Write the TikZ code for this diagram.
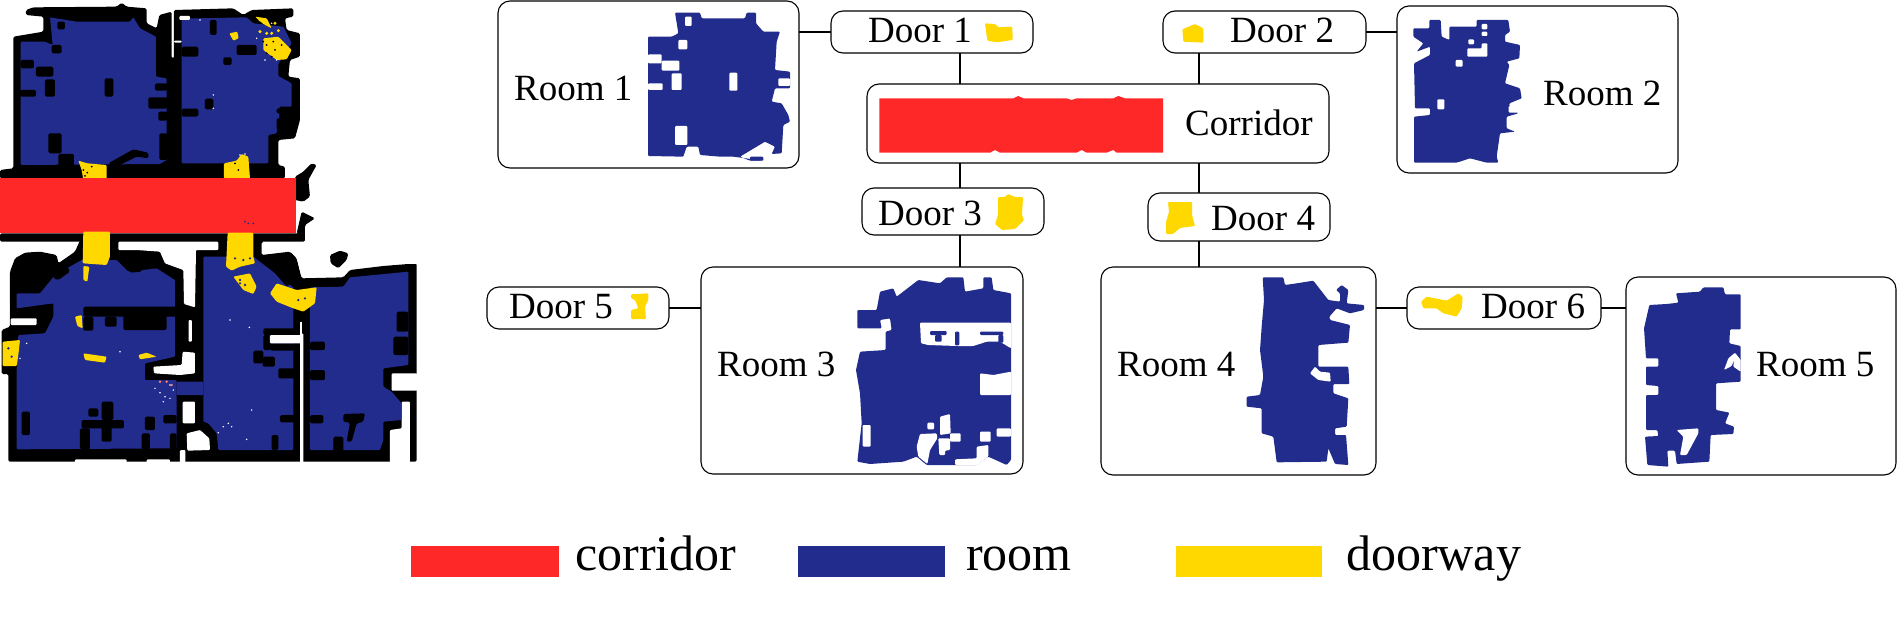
\documentclass[tikz,border=0pt]{standalone}
\usepackage{fontspec}
\setmainfont{Liberation Serif}
\definecolor{rmblue}{RGB}{34,44,140}
\definecolor{corred}{RGB}{255,40,40}
\definecolor{dooryel}{RGB}{255,216,0}
\newcommand{\pf}[2]{\fill[#1] plot coordinates {#2} -- cycle;}
\newcommand{\rf}[3]{\fill[#1] #2 rectangle #3;}
\tikzset{
  rk/.style={black,rounded corners=1.5pt},
  rb/.style={rmblue,rounded corners=1pt},
  ry/.style={dooryel,rounded corners=1pt},
  rw/.style={white,rounded corners=1pt},
  zoomed/.style={shift={#1},scale=0.33333},
  box/.style={draw=black,line width=1.1pt,rounded corners=12pt,fill=none,inner sep=0pt,outer sep=0pt},
  lbl/.style={anchor=base west,inner sep=0pt,font=\fontsize{37}{37}\selectfont},
  leg/.style={anchor=base west,inner sep=0pt,font=\fontsize{50}{50}\selectfont},
  link/.style={draw=black,line width=1.1pt},
}
\begin{document}
\begin{tikzpicture}[x=1pt,y=-1pt]
\useasboundingbox (0,0) rectangle (1897,626);
% ---------- left map, upper half ----------
\begin{scope}[zoomed={(0,0)}]
\pf{rk}{(40,110) (130,95) (130,50) (78,45) (78,30) (100,22) (350,20) (365,8) (380,20) (440,25) (440,70) (470,85) (478,45) (515,35) (515,175) (522,175) (522,30) (700,25) (730,45) (755,30) (880,25) (880,50) (855,55) (860,90) (900,100) (900,170) (870,180) (865,230) (900,235) (900,360) (885,415) (835,420) (835,495) (855,500) (855,535) (0,535) (0,510) (40,505)}
\pf{rk}{(885,530) (910,515) (935,490) (950,495) (925,540) (930,590) (910,605) (885,600)}
\pf{rb}{(62,125) (135,125) (158,135) (150,52) (230,65) (390,65) (400,52) (420,85) (468,110) (468,230) (500,235) (500,480) (480,492) (62,495)}
\pf{rb}{(545,55) (590,55) (740,52) (760,70) (850,80) (875,130) (850,170) (835,190) (835,228) (875,250) (875,320) (838,320) (838,355) (830,400) (805,405) (805,490) (545,490)}
\rf{rk}{(155,135)}{(185,160)}
\rf{rk}{(172,65)}{(195,88)}
\rf{rk}{(62,180)}{(102,205)}
\rf{rk}{(108,200)}{(160,230)}
\rf{rk}{(135,238)}{(165,290)}
\rf{rk}{(60,270)}{(108,290)}
\rf{rk}{(314,235)}{(340,290)}
\rf{rk}{(145,400)}{(185,460)}
\rf{rk}{(175,462)}{(222,500)}
\pf{rk}{(325,490) (400,448) (445,458) (445,475) (410,470) (340,505)}
\rf{rk}{(465,250)}{(502,272)}
\rf{rk}{(445,292)}{(502,326)}
\rf{rk}{(475,335)}{(502,362)}
\rf{rk}{(478,400)}{(502,480)}
\rf{rk}{(630,60)}{(650,105)}
\rf{rk}{(710,135)}{(770,165)}
\rf{rk}{(670,172)}{(695,195)}
\rf{rk}{(615,296)}{(640,328)}
\rf{rk}{(545,326)}{(595,350)}
\rf{rk}{(545,140)}{(595,170)}
\rf{rk}{(830,325)}{(878,340)}
\rf{rk}{(830,355)}{(885,390)}
\rf{rw}{(538,48)}{(570,60)}
\rf{rw}{(522,122)}{(545,128)}
\pf{ry}{(765,50) (800,55) (815,85) (790,72)}
\pf{ry}{(790,115) (835,110) (875,150) (860,178) (830,180) (790,150)}
\pf{ry}{(688,100) (712,95) (716,115) (700,122)}
\pf{ry}{(235,482) (262,490) (320,495) (320,535) (310,548) (250,540) (245,510)}
\pf{ry}{(672,490) (710,482) (725,462) (745,470) (750,535) (672,535)}
\foreach \p/\q in {250/510,262/518,255/528,275/500,715/510,705/490,800/160,815/170,790/125,820/125,845/135,825/150,800/135}{\fill[black] (\p,\q) circle (3);}
\foreach \p/\q in {780/60,795/65,825/70,800/100,815/100,835/92,780/95}{\fill[dooryel] (\p,\q) circle (5);}
\foreach \p/\q in {600/60,640/285,640/325,770/115,795/180,830/180,815/70,720/465,735/462,265/560,300/550,330/545,275/595,335/610}{\fill[white] (\p,\q) circle (2.5);}
\end{scope}
% corridor
\fill[corred] (0,178) rectangle (296,233);
% ---------- left map, lower half ----------
\begin{scope}[zoomed={(0,200)}]
\rf{rk}{(0,100)}{(915,125)}
\pf{rk}{(890,100) (905,35) (945,55) (915,75) (915,125)}
\pf{rk}{(30,215) (45,175) (75,158) (120,155) (170,165) (175,190) (225,155) (245,110) (790,110) (785,165) (870,155) (890,175) (905,235) (1030,232) (1050,210) (1150,198) (1250,190) (1250,785) (25,785) (25,522) (5,522) (5,390) (30,380) (30,330)}
\pf{rk}{(990,165) (1020,152) (1045,160) (1040,180) (1015,205) (992,190)}
% white gaps
\pf{rw}{(355,125) (655,125) (655,150) (588,150) (585,322) (552,312) (550,210) (495,190) (480,155) (410,150) (355,150)}
\rf{white}{(1050,150)}{(1255,192)}
\pf{rw}{(785,127) (900,127) (905,232) (890,172) (870,152) (785,163)}
\rf{rw}{(32,355)}{(110,375)}
\rf{rw}{(0,300)}{(28,380)}
\pf{rw}{(460,500) (545,495) (548,455) (585,458) (585,520) (540,525) (462,520)}
\rf{rw}{(566,360)}{(576,425)}
\rf{rw}{(548,605)}{(585,670)}
\pf{rw}{(560,700) (600,690) (628,715) (630,750) (562,752)}
\rf{rw}{(1175,520)}{(1252,572)}
\pf{rw}{(1205,605) (1230,605) (1230,790) (1170,790) (1170,690) (1205,685)}
\rf{rw}{(225,778)}{(380,790)}
\rf{rw}{(440,778)}{(510,790)}
\rf{rw}{(540,750)}{(556,790)}
\rf{rw}{(905,400)}{(910,790)}
% blue rooms
\pf{rb}{(50,280) (120,280) (165,225) (245,180) (350,180) (385,215) (470,205) (525,240) (525,470) (435,490) (435,540) (530,540) (530,745) (50,748) (50,510) (55,405) (135,400) (160,350) (160,310) (50,325)}
\pf{rb}{(610,170) (760,170) (880,262) (880,750) (655,750) (650,700) (625,670) (610,665)}
\rf{rb}{(530,545)}{(610,585)}
\pf{rb}{(930,262) (1030,260) (1050,232) (1225,215) (1225,495) (1150,505) (1150,560) (1175,575) (1205,610) (1205,660) (1150,665) (1150,720) (1140,750) (930,750)}
% black details C
\rf{rk}{(250,320)}{(550,350)}
\rf{rk}{(250,350)}{(280,392)}
\rf{rk}{(315,350)}{(350,380)}
\rf{rk}{(370,345)}{(500,390)}
\rf{rk}{(65,635)}{(90,705)}
\rf{rk}{(265,625)}{(295,650)}
\rf{rk}{(305,605)}{(340,660)}
\rf{rk}{(245,660)}{(372,685)}
\rf{rk}{(305,675)}{(335,725)}
\rf{rk}{(240,685)}{(270,748)}
\rf{rk}{(435,650)}{(465,690)}
\rf{rk}{(425,700)}{(450,748)}
\rf{rk}{(490,645)}{(530,670)}
\rf{rk}{(510,700)}{(530,748)}
\pf{rk}{(160,205) (200,195) (210,215) (175,240) (160,235)}
\pf{rk}{(385,175) (430,170) (425,215) (390,218)}
% black details D
\rf{rk}{(790,385)}{(905,405)}
\rf{rk}{(790,405)}{(812,450)}
\rf{rk}{(810,430)}{(882,452)}
\rf{rk}{(760,452)}{(790,490)}
\rf{rk}{(788,470)}{(825,500)}
\rf{rk}{(835,505)}{(905,535)}
\rf{rk}{(840,645)}{(885,667)}
\rf{rk}{(815,705)}{(835,750)}
\pf{rk}{(800,190) (850,195) (880,245) (860,260)}
\rf{rw}{(810,405)}{(902,430)}
\rf{white}{(900,365)}{(905,785)}
% black details E
\rf{rk}{(930,425)}{(975,450)}
\rf{rk}{(930,510)}{(975,540)}
\rf{rk}{(930,645)}{(970,670)}
\rf{rk}{(1190,335)}{(1225,395)}
\rf{rk}{(1180,410)}{(1225,465)}
\pf{rk}{(1030,642) (1095,640) (1090,665) (1070,670) (1055,725) (1040,725) (1050,668) (1030,665)}
\rf{rk}{(1000,710)}{(1030,755)}
% doors
\pf{ry}{(250,95) (330,95) (330,170) (320,195) (248,190)}
\pf{ry}{(683,98) (760,98) (760,170) (765,190) (720,200) (695,212) (678,200)}
\pf{ry}{(810,280) (830,250) (890,270) (950,262) (945,310) (910,335) (880,325) (830,305)}
\pf{ry}{(8,425) (60,420) (55,465) (50,498) (8,498)}
\pf{ry}{(250,198) (268,200) (262,245) (250,240)}
\pf{ry}{(225,350) (245,345) (248,385) (232,378)}
\pf{ry}{(250,460) (320,470) (315,488) (255,480)}
\pf{ry}{(415,465) (440,458) (470,470) (420,478)}
\pf{ry}{(700,230) (750,220) (770,260) (760,282) (730,270)}
\foreach \p/\q in {705/175,730/180,750/175,720/240,735/255,720/250,25/445,35/470,895/300,915/295}{\fill[rmblue] (\p,\q) circle (4);}
\foreach \p/\q in {690/360,748/382,465/565,480/578,495/590,510/595,520/570,510/555,490/605,685/670,670/680,695/680,655/698,740/718,755/630,60/475,80/430,360/455}{\fill[white] (\p,\q) circle (2.5);}
\foreach \p/\q in {500/545,515/555,480/545}{\fill[corred!60!white] (\p,\q) circle (4);}
\foreach \p/\q in {735/65,760/70,745/70}{\fill[rmblue] (\p,\q) circle (3);}
\end{scope}
% ---------- graph boxes ----------
\node[box,minimum width=301pt,minimum height=167pt] (room1) at (648.5,84.5) {};
\node[box,minimum width=281pt,minimum height=167pt] (room2) at (1537.5,89.5) {};
\node[box,minimum width=322pt,minimum height=207pt] (room3) at (862,370.5) {};
\node[box,minimum width=275pt,minimum height=208pt] (room4) at (1238.5,371) {};
\node[box,minimum width=270pt,minimum height=198pt] (room5) at (1761,376) {};
\node[box,minimum width=462pt,minimum height=79pt] (corridor) at (1098,123.5) {};
\node[box,minimum width=202pt,minimum height=42pt] (door1) at (932,32) {};
\node[box,minimum width=203pt,minimum height=42pt] (door2) at (1264.5,32) {};
\node[box,minimum width=182pt,minimum height=47pt] (door3) at (953,211.5) {};
\node[box,minimum width=182pt,minimum height=48pt] (door4) at (1239,217) {};
\node[box,minimum width=182pt,minimum height=42pt] (door5) at (578,308) {};
\node[box,minimum width=194pt,minimum height=42pt] (door6) at (1504,308) {};
% connectors
\coordinate (c1t) at (960,84);
\coordinate (c2t) at (1199,84);
\draw[link] (door1.west) -- (door1.west -| room1.east);
\draw[link] (door2.east) -- (door2.east -| room2.west);
\draw[link] (c1t |- door1.south) -- (c1t |- corridor.north);
\draw[link] (c2t |- door2.south) -- (c2t |- corridor.north);
\draw[link] (c1t |- corridor.south) -- (c1t |- door3.north);
\draw[link] (c2t |- corridor.south) -- (c2t |- door4.north);
\draw[link] (c1t |- door3.south) -- (c1t |- room3.north);
\draw[link] (c2t |- door4.south) -- (c2t |- room4.north);
\draw[link] (door5.east) -- (door5.east -| room3.west);
\draw[link] (door6.west) -- (door6.west -| room4.east);
\draw[link] (door6.east) -- (door6.east -| room5.west);
% labels
\node[lbl] (lroom1) at (514,100) {Room 1};
\node[lbl] (lroom2) at (1543,105) {Room 2};
\node[lbl] (lroom3) at (717,376) {Room 3};
\node[lbl] (lroom4) at (1117,376) {Room 4};
\node[lbl] (lroom5) at (1756,376) {Room 5};
\node[lbl] (ldoor1) at (868,43) {Door 1};
\node[lbl] (ldoor2) at (1230,43) {Door 2};
\node[lbl] (ldoor3) at (878,225) {Door 3};
\node[lbl] (ldoor4) at (1211,230) {Door 4};
\node[lbl] (ldoor5) at (509,318) {Door 5};
\node[lbl] (ldoor6) at (1481,318) {Door 6};
\node[lbl] (lcorr) at (1185,135) {Corridor};
% room 1 blob
\begin{scope}[zoomed={(400,0)}]
\pf{rb}{(744,110) (815,110) (835,100) (825,38) (900,38) (905,55) (1035,55) (1040,38) (1068,38) (1068,70) (1090,95) (1140,95) (1130,125) (1125,210) (1170,215) (1170,265) (1125,265) (1115,305) (1145,310) (1165,345) (1170,365) (1150,375) (1145,460) (1115,462) (1125,440) (1095,425) (1020,470) (1050,482) (1090,482) (1000,470) (960,470) (900,465) (895,440) (860,440) (850,470) (744,468)}
\rf{rw}{(855,50)}{(875,78)}
\rf{rw}{(835,120)}{(862,148)}
\rf{rw}{(744,163)}{(785,190)}
\rf{rw}{(785,182)}{(838,212)}
\rf{rw}{(815,220)}{(845,270)}
\rf{rw}{(988,218)}{(1012,272)}
\rf{rw}{(744,250)}{(788,270)}
\rf{rw}{(825,378)}{(862,435)}
\rf{rw}{(1135,235)}{(1170,258)}
\rf{rb}{(1050,470)}{(1090,482)}
\end{scope}
% room 2 blob
\begin{scope}[zoomed={(1390,0)}]
\pf{rb}{(70,85) (118,85) (118,60) (152,60) (155,110) (178,120) (178,80) (260,80) (260,60) (355,60) (360,95) (345,105) (345,125) (390,135) (388,175) (350,185) (358,195) (345,250) (390,265) (395,295) (358,310) (358,318) (385,340) (350,350) (350,385) (375,395) (330,400) (320,470) (325,488) (290,488) (240,475) (200,488) (72,488) (72,350) (120,345) (120,325) (75,325) (72,190) (120,165) (120,140) (80,155) (100,130) (70,110)}
\rf{rw}{(275,72)}{(292,88)}
\rf{rw}{(275,95)}{(292,108)}
\rf{rw}{(235,118)}{(252,133)}
\pf{rw}{(232,145) (275,145) (275,130) (292,130) (292,170) (232,170)}
\rf{rw}{(197,180)}{(218,200)}
\rf{rw}{(142,298)}{(163,328)}
\rf{rw}{(356,318)}{(392,338)}
\end{scope}
% room 3 blob
\begin{scope}[zoomed={(840,260)}]
\pf{rb}{(52,150) (110,150) (120,95) (160,85) (170,110) (235,60) (300,70) (320,52) (370,52) (375,95) (430,85) (430,52) (455,52) (460,90) (513,100) (513,600) (500,615) (445,590) (410,615) (260,615) (230,590) (190,605) (90,612) (52,605) (65,490) (60,400) (48,330) (60,275) (137,270) (137,215) (155,210) (150,175) (120,180) (125,205) (52,205)}
\pf{rw}{(240,188) (513,188) (513,265) (480,245) (440,245) (400,258) (350,258) (265,255) (243,250)}
\rf{rb}{(270,213)}{(320,225)}
\rf{rb}{(285,225)}{(305,245)}
\rf{rb}{(345,215)}{(358,256)}
\rf{rb}{(420,215)}{(490,225)}
\rf{rb}{(475,225)}{(490,248)}
\pf{rw}{(420,340) (460,345) (513,335) (513,405) (420,405)}
\rf{rw}{(68,495)}{(92,560)}
\rf{rw}{(262,488)}{(282,508)}
\pf{rw}{(300,470) (330,462) (332,520) (300,525)}
\pf{rw}{(240,522) (290,520) (292,535) (270,570) (262,612) (235,590) (230,560)}
\pf{rw}{(295,535) (330,535) (330,570) (315,572) (315,585) (298,585)}
\rf{rw}{(330,520)}{(362,545)}
\rf{rw}{(420,515)}{(452,545)}
\rf{rw}{(470,505)}{(513,530)}
\pf{rw}{(410,560) (445,555) (445,590) (412,615) (345,615) (345,598) (410,595)}
\end{scope}
% room 4 blob
\begin{scope}[zoomed={(1240,260)}]
\pf{rb}{(68,52) (130,52) (135,75) (170,70) (220,62) (265,120) (300,125) (300,100) (288,90) (305,75) (325,90) (320,130) (372,135) (372,150) (330,160) (290,145) (268,170) (270,180) (330,195) (325,248) (235,255) (235,320) (325,320) (328,372) (280,372) (280,400) (325,415) (320,500) (285,505) (285,525) (318,525) (325,615) (285,612) (265,565) (260,605) (110,607) (100,530) (65,520) (65,445) (20,440) (20,410) (60,405) (70,350) (60,270) (65,200) (72,120)}
\pf{rw}{(210,340) (225,320) (240,335) (270,338) (272,365) (235,360) (225,352)}
\end{scope}
% room 5 blob
\begin{scope}[zoomed={(1620,260)}]
\pf{rb}{(88,135) (140,132) (175,128) (168,100) (240,95) (250,82) (310,82) (315,103) (362,103) (362,208) (330,208) (328,250) (362,258) (362,365) (288,370) (288,450) (328,458) (315,490) (342,500) (340,522) (272,525) (268,605) (170,612) (165,572) (142,572) (145,620) (82,615) (75,530) (115,528) (112,510) (78,510) (78,405) (115,405) (115,378) (78,375) (78,320) (115,320) (115,295) (78,295) (72,205)}
\pf{rw}{(170,510) (235,505) (235,520) (200,585) (180,585) (190,530)}
\pf{rw}{(312,330) (325,295) (345,278) (362,300) (362,335) (340,320) (342,300) (335,318)}
\end{scope}
% corridor blob
\begin{scope}[zoomed={(400,0)}]
\pf{corred}{(1438,295) (1840,295) (1855,288) (1870,295) (2000,295) (2015,300) (2030,295) (2140,295) (2155,288) (2175,295) (2289,295) (2289,458) (2150,458) (2140,450) (2120,458) (2060,458) (2045,450) (2030,458) (1800,458) (1785,450) (1770,458) (1438,458)}
\end{scope}
% door icons
\begin{scope}[zoomed={(940,0)}]
\pf{ry}{(135,70) (165,72) (175,82) (217,80) (218,120) (170,127) (142,122)}
\pf{ry}{(727,88) (765,72) (790,85) (790,128) (730,125)}
\end{scope}
\pf{ry}{(998,197) (1005,197) (1008,194) (1015,197) (1023,197) (1022,215) (1024,220) (1015,229) (1002,230) (995,224) (998,215)}
\pf{ry}{(1168,202) (1192,202) (1192,215) (1195,226) (1180,228) (1173,234) (1166,234) (1166,222) (1169,212)}
\begin{scope}[zoomed={(400,210)}]
\pf{ry}{(693,253) (745,250) (745,270) (735,290) (738,327) (693,327) (693,300) (715,295) (705,270) (693,265)}
\end{scope}
\begin{scope}[zoomed={(1240,260)}]
\pf{ry}{(543,125) (560,110) (620,122) (655,100) (668,110) (665,145) (650,170) (610,160) (590,145) (550,145)}
\end{scope}
% legend
\fill[corred] (411,546) rectangle (559,577);
\fill[rmblue] (798,546) rectangle (945,577);
\fill[dooryel] (1176,546) rectangle (1322,577);
\node[leg] (lg1) at (575,570) {corridor};
\node[leg] (lg2) at (966,570) {room};
\node[leg] (lg3) at (1346,570) {doorway};
\end{tikzpicture}
\end{document}
